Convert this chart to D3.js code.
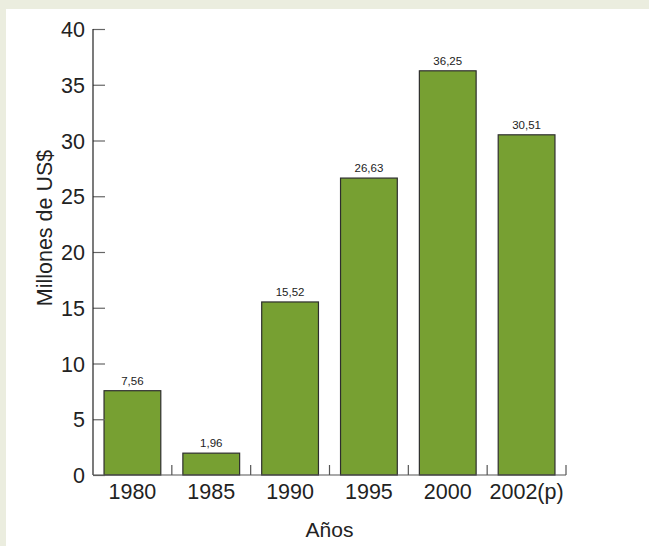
<!DOCTYPE html>
<html>
<head>
<meta charset="utf-8">
<script src="https://cdn.jsdelivr.net/npm/d3@7"></script>
<style>
  html, body { margin: 0; padding: 0; background: #ebeddf; }
  svg { display: block; }
  text { font-family: "Liberation Sans", Arial, Helvetica, sans-serif; fill: #222; }
</style>
</head>
<body>
<svg id="chart" width="649" height="546"></svg>
<script>
// Exportaciones por año, en millones de US$
const years = ["1980", "1985", "1990", "1995", "2000", "2002(p)"];
const values = [7.56, 1.96, 15.52, 26.63, 36.25, 30.51];
const valueLabels = ["7,56", "1,96", "15,52", "26,63", "36,25", "30,51"];
const yTicks = [0, 5, 10, 15, 20, 25, 30, 35, 40];

(function () {
  const svg = d3.select("#chart");
  const W = 649, H = 546;

  // white panel
  svg.append("rect").attr("x", 6).attr("y", 9).attr("width", W - 6).attr("height", H - 9).attr("fill", "#ffffff");

  const plotLeft = 93, plotRight = 566, plotTop = 29, plotBottom = 475;

  const x = d3.scaleBand().domain(years).range([plotLeft, plotRight]).paddingInner(0.28).paddingOuter(0.14);
  const y = d3.scaleLinear().domain([0, 40]).range([plotBottom, plotTop]);

  // bars
  svg.append("g").selectAll("rect").data(values).join("rect")
    .attr("x", (d, i) => x(years[i]))
    .attr("y", d => y(d))
    .attr("width", x.bandwidth())
    .attr("height", d => y(0) - y(d))
    .attr("fill", "#77a032")
    .attr("stroke", "#2e2e2e")
    .attr("stroke-width", 1.2);

  // value labels
  svg.append("g").selectAll("text").data(values).join("text")
    .attr("x", (d, i) => x(years[i]) + x.bandwidth() / 2)
    .attr("y", d => y(d) - 6)
    .attr("text-anchor", "middle")
    .attr("font-size", 11.5)
    .text((d, i) => valueLabels[i]);

  // y axis
  const yAxis = d3.axisRight(y).tickValues(yTicks).tickSize(12).tickFormat("");
  const gy = svg.append("g").attr("transform", `translate(${plotLeft},0)`).call(yAxis);
  gy.select(".domain").remove();
  gy.selectAll(".tick line").attr("stroke", "#666").attr("stroke-width", 1.2);
  svg.append("line").attr("x1", plotLeft).attr("x2", plotLeft).attr("y1", plotTop).attr("y2", plotBottom)
    .attr("stroke", "#222").attr("stroke-width", 1.2);

  svg.append("g").selectAll("text").data(yTicks).join("text")
    .attr("x", plotLeft - 8)
    .attr("y", d => y(d) + 8)
    .attr("text-anchor", "end")
    .attr("font-size", 21.5)
    .text(d => d);

  // x axis baseline and band separators
  svg.append("line").attr("x1", plotLeft).attr("x2", plotRight).attr("y1", plotBottom).attr("y2", plotBottom)
    .attr("stroke", "#555").attr("stroke-width", 1.2);
  const step = (plotRight - plotLeft) / years.length;
  svg.append("g").selectAll("line").data(years).join("line")
    .attr("x1", (d, i) => plotLeft + (i + 1) * step)
    .attr("x2", (d, i) => plotLeft + (i + 1) * step)
    .attr("y1", plotBottom)
    .attr("y2", plotBottom - 10)
    .attr("stroke", "#555").attr("stroke-width", 1.2);

  svg.append("g").selectAll("text").data(years).join("text")
    .attr("x", d => x(d) + x.bandwidth() / 2)
    .attr("y", 499)
    .attr("text-anchor", "middle")
    .attr("font-size", 21.5)
    .text(d => d);

  // axis titles
  svg.append("text")
    .attr("transform", "rotate(-90)")
    .attr("x", -228)
    .attr("y", 52)
    .attr("text-anchor", "middle")
    .attr("font-size", 21.5)
    .text("Millones de US$");

  svg.append("text")
    .attr("x", (plotLeft + plotRight) / 2)
    .attr("y", 537)
    .attr("text-anchor", "middle")
    .attr("font-size", 21)
    .text("Años");
})();
</script>
</body>
</html>
